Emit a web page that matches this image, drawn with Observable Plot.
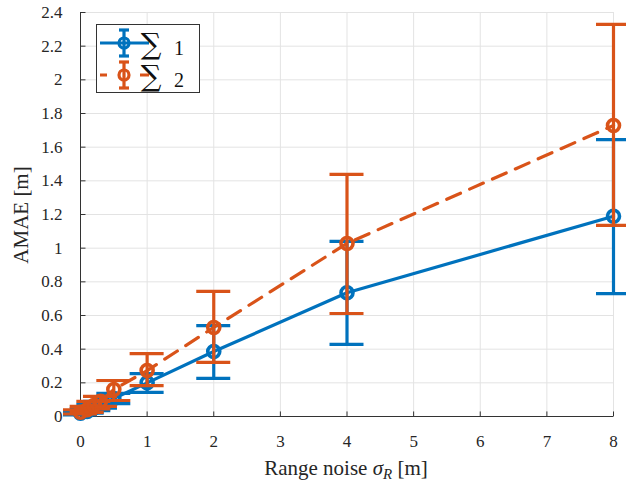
<!DOCTYPE html>
<html>
<head>
<meta charset="utf-8">
<script src="https://cdn.jsdelivr.net/npm/d3@7"></script>
<script src="https://cdn.jsdelivr.net/npm/@observablehq/plot@0.6"></script>
<style>
  html, body { margin: 0; padding: 0; background: #fff; }
  #chart { width: 626px; height: 482px; }
  #chart svg, #chart svg text { font-family: "Liberation Serif", "Times New Roman", serif !important; }
  #chart svg text.sigma { font-family: "DejaVu Serif", serif !important; }
</style>
</head>
<body>
<div id="chart"></div>
<script>
// Range noise levels (m)
const sigmaR = [0, 0.1, 0.2, 0.3, 0.5, 1, 2, 4, 8];

// Σ1: mean AMAE and error-bar bounds (m)
const s1Mean = [0.02, 0.03, 0.05, 0.07, 0.107, 0.20, 0.386, 0.735, 1.19];
const s1Low  = [0.01, 0.02, 0.035, 0.05, 0.077, 0.143, 0.226, 0.428, 0.73];
const s1High = [0.03, 0.045, 0.07, 0.09, 0.137, 0.255, 0.54, 1.04, 1.645];

// Σ2: mean AMAE and error-bar bounds (m)
const s2Mean = [0.025, 0.04, 0.065, 0.09, 0.16, 0.273, 0.529, 1.028, 1.729];
const s2Low  = [0.015, 0.025, 0.045, 0.06, 0.095, 0.184, 0.321, 0.612, 1.135];
const s2High = [0.04, 0.06, 0.09, 0.12, 0.214, 0.374, 0.743, 1.438, 2.33];

const xTicks = [0, 1, 2, 3, 4, 5, 6, 7, 8];
const yTicks = [0, 0.2, 0.4, 0.6, 0.8, 1, 1.2, 1.4, 1.6, 1.8, 2, 2.2, 2.4];

const seriesNames = ["1", "2"];
const colors = ["#0072BD", "#D95319"];

const rows = (mean, low, high, k) =>
  sigmaR.map((x, i) => ({x, y: mean[i], lo: low[i], hi: high[i], k}));
const s1 = rows(s1Mean, s1Low, s1High, 0);
const s2 = rows(s2Mean, s2Low, s2High, 1);

const dash = "15,10";
const lw = 3.2;

function seriesMarks(data, k, dashed) {
  const c = colors[k];
  return [
    Plot.line(data, {x: "x", y: "y", stroke: c, strokeWidth: lw, strokeDasharray: dashed ? dash : null}),
    Plot.ruleX(data, {x: "x", y1: "lo", y2: "hi", stroke: c, strokeWidth: lw}),
    Plot.ruleY(data, {y: "lo", x1: "x", x2: "x", insetLeft: -17, insetRight: -17, stroke: c, strokeWidth: lw}),
    Plot.ruleY(data, {y: "hi", x1: "x", x2: "x", insetLeft: -17, insetRight: -17, stroke: c, strokeWidth: lw}),
    Plot.dot(data, {x: "x", y: "y", r: 6, stroke: c, strokeWidth: 3.6, fill: "none"})
  ];
}

const axisColor = "#333";
const font = "Liberation Serif, Times New Roman, serif";

const chart = Plot.plot({
  width: 626,
  height: 482,
  marginLeft: 80,
  marginRight: 13,
  marginTop: 12,
  marginBottom: 66,
  style: {fontFamily: font, fontSize: "17px", color: "#262626", background: "#fff", overflow: "visible"},
  x: {domain: [0, 8], ticks: xTicks, tickSize: 0, tickPadding: 18, tickFormat: d3.format("~g"), label: null},
  y: {domain: [0, 2.4], ticks: yTicks, tickSize: 0, tickPadding: 18, tickFormat: d3.format("~g"), label: null},
  marks: [
    // grid
    Plot.ruleX(xTicks, {stroke: "#e3e3e3", strokeWidth: 1}),
    Plot.ruleY(yTicks, {stroke: "#e3e3e3", strokeWidth: 1}),
    // inward tick marks
    Plot.link(xTicks, {x1: d => d, x2: d => d, y1: 0, y2: 0.03, stroke: axisColor}),
    Plot.link(yTicks, {x1: 0, x2: 0.075, y1: d => d, y2: d => d, stroke: axisColor}),
    // axis lines
    Plot.ruleY([0], {stroke: axisColor, strokeWidth: 1}),
    Plot.ruleX([0], {stroke: axisColor, strokeWidth: 1}),
    ...seriesMarks(s1, 0, false),
    ...seriesMarks(s2, 1, true)
  ]
});

document.getElementById("chart").appendChild(chart);

const svg = d3.select(chart);

// axis titles
const xt = svg.append("text")
  .attr("x", 346).attr("y", 475)
  .attr("text-anchor", "middle")
  .style("font-size", "21px").attr("fill", "#262626");
xt.append("tspan").text("Range noise ");
xt.append("tspan").style("font-style", "italic").text("σ");
xt.append("tspan").style("font-style", "italic").style("font-size", "15px").attr("dy", 4).text("R");
xt.append("tspan").attr("dy", -4).text(" [m]");

svg.append("text")
  .attr("transform", "translate(28,215) rotate(-90)")
  .attr("text-anchor", "middle")
  .style("font-size", "21px").attr("fill", "#262626")
  .text("AMAE [m]");

// legend
const lg = svg.append("g");
lg.append("rect").attr("x", 96.5).attr("y", 24.5).attr("width", 103).attr("height", 68)
  .attr("fill", "#fff").attr("stroke", "#333").attr("stroke-width", 1);

seriesNames.forEach((name, k) => {
  const cy = k === 0 ? 43 : 75;
  const c = colors[k];
  const g = lg.append("g");
  g.append("line").attr("x1", 100).attr("x2", 149).attr("y1", cy).attr("y2", cy)
    .attr("stroke", c).attr("stroke-width", lw).attr("stroke-dasharray", k === 1 ? "7,33,9" : null);
  g.append("line").attr("x1", 124).attr("x2", 124).attr("y1", cy - 13).attr("y2", cy + 13)
    .attr("stroke", c).attr("stroke-width", lw);
  g.append("line").attr("x1", 119).attr("x2", 129).attr("y1", cy - 13).attr("y2", cy - 13)
    .attr("stroke", c).attr("stroke-width", lw);
  g.append("line").attr("x1", 119).attr("x2", 129).attr("y1", cy + 13).attr("y2", cy + 13)
    .attr("stroke", c).attr("stroke-width", lw);
  g.append("circle").attr("cx", 124).attr("cy", cy).attr("r", 5)
    .attr("fill", "none").attr("stroke", c).attr("stroke-width", lw);
  g.append("text").attr("class", "sigma").attr("x", 151).attr("y", cy + 11)
    .style("font-size", "29px").attr("fill", "#111").text("∑");
  g.append("text").attr("x", 179).attr("y", cy + 12)
    .style("font-size", "20px").attr("fill", "#111").text(name);
});
</script>
</body>
</html>
